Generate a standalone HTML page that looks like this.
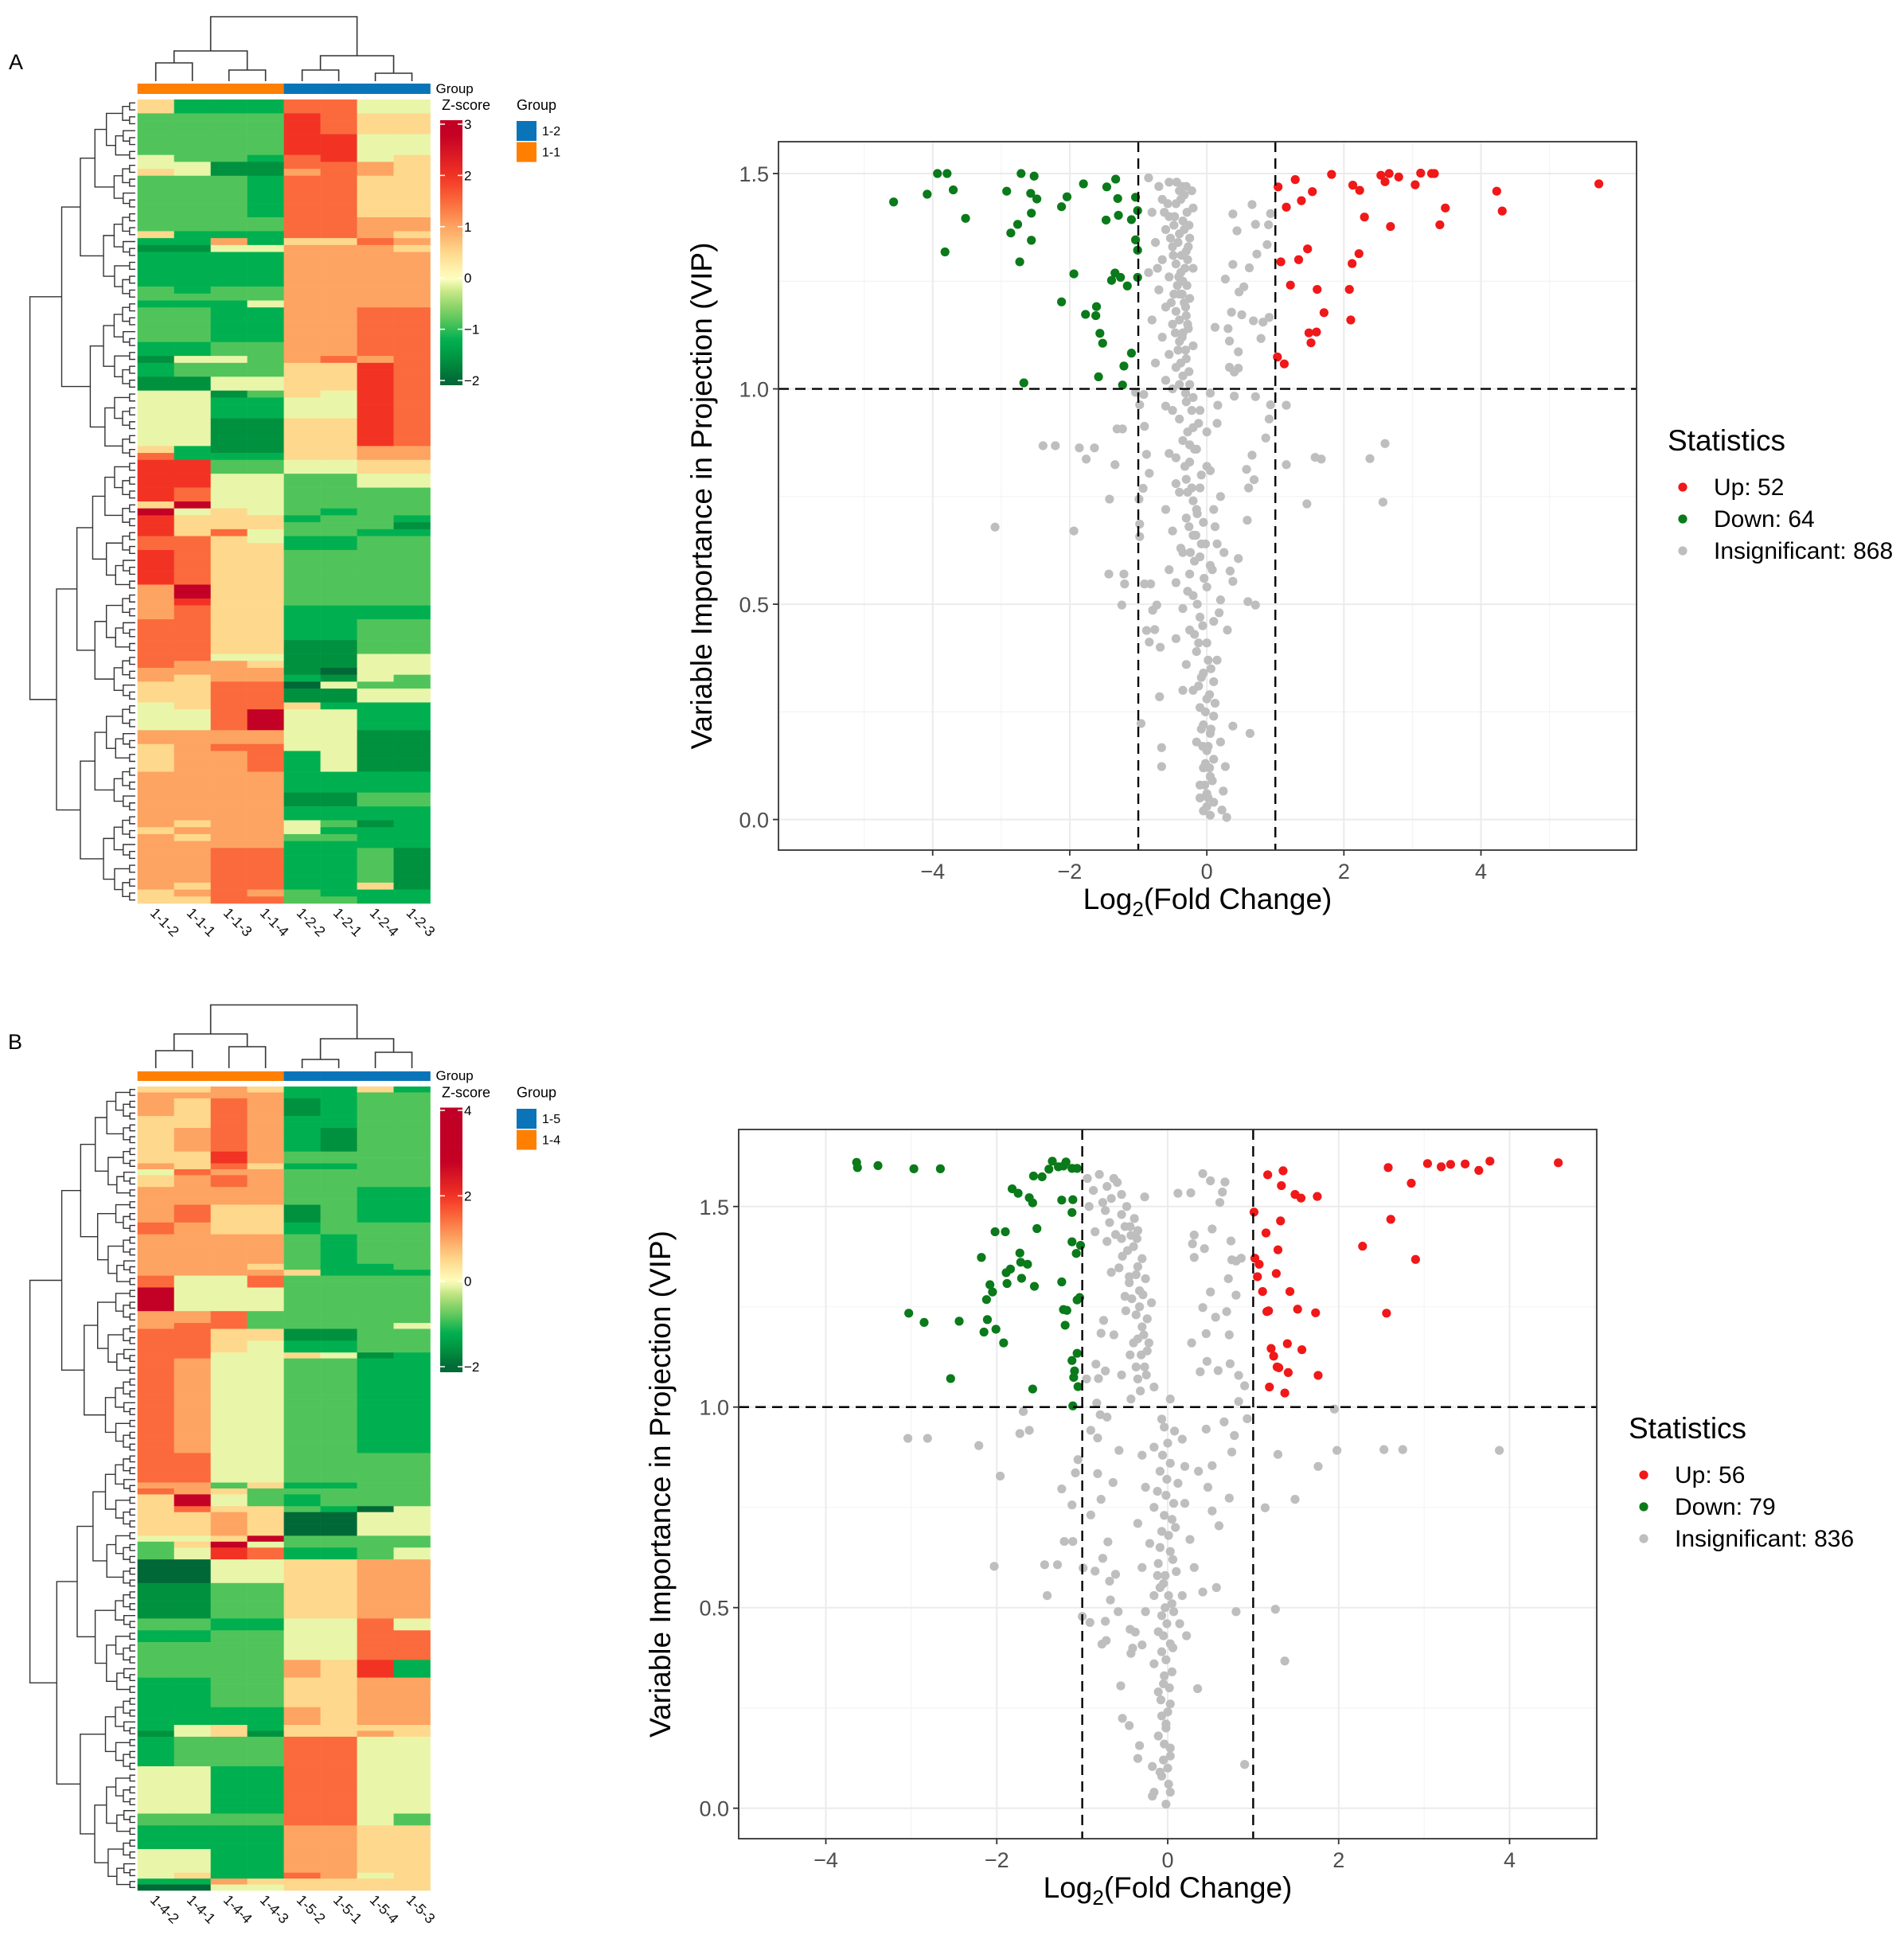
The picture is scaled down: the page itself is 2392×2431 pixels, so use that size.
<!DOCTYPE html>
<html><head><meta charset="utf-8"><title>Heatmaps and volcano plots</title>
<style>
html,body{margin:0;padding:0;background:#fff;}
svg{display:block;font-family:"Liberation Sans",Arial,sans-serif;}
</style></head>
<body>
<svg id="fig" width="2392" height="2431" viewBox="0 0 2392 2431" xmlns="http://www.w3.org/2000/svg">
<rect x="0" y="0" width="2392" height="2431" fill="#fff"/>
<text x="20" y="87" font-size="27" text-anchor="middle">A</text>
<text x="19" y="1318" font-size="27" text-anchor="middle">B</text>
<g id="layer"></g>
</svg>
<script>
// ---------- HEATMAP DATA ----------
const levelValues = [-2, -1.6, -1.2, -0.85, -0.1, 0.5, 1, 1.5, 2, 3.2];
const heatA_cols = ["1-1-2","1-1-1","1-1-3","1-1-4","1-2-2","1-2-1","1-2-4","1-2-3"];
const heatB_cols = ["1-4-2","1-4-1","1-4-4","1-4-3","1-5-2","1-5-1","1-5-4","1-5-3"];
const heatA_groups = ["1-1","1-1","1-1","1-1","1-2","1-2","1-2","1-2"];
const heatB_groups = ["1-4","1-4","1-4","1-4","1-5","1-5","1-5","1-5"];
const heatA_rows = [[2,"52227744"],[3,"33338755"],[3,"33338844"],[1,"43327845"],[1,"44117765"],[1,"54116765"],[6,"33327755"],[2,"33337766"],[1,"52227765"],[1,"22625576"],[1,"11446665"],[5,"22226666"],[1,"32336666"],[1,"33336666"],[1,"22246666"],[5,"33226677"],[2,"22336677"],[1,"14436767"],[2,"23335587"],[2,"11445587"],[1,"44135487"],[3,"44224487"],[4,"44115587"],[1,"52115566"],[1,"72225566"],
[2,"88334455"],[2,"88443344"],[2,"87443333"],[1,"59443333"],[1,"94543233"],[1,"85552332"],[1,"85553331"],[1,"85743322"],[1,"77542233"],[1,"77552233"],[5,"87553333"],[2,"69553333"],[1,"68553333"],[2,"67552222"],[3,"77552233"],[2,"77551133"],[1,"77441144"],[1,"76651144"],[1,"66661044"],[1,"65662143"],[1,"55770433"],[1,"55771144"],[1,"55771144"],[1,"45775222"],[3,"44794422"],[1,"66664411"],[1,"66664411"],[1,"56774411"],[3,"56672411"],[3,"66662222"],[2,"66661133"],[2,"66662222"],[1,"65664312"],[1,"56664222"],[1,"65663322"],[1,"66662222"],[5,"66772231"],[1,"65772251"],[1,"56763222"],[1,"55773322"]];
const heatB_rows = [[1,"55652252"],[1,"66662233"],[3,"65761233"],[2,"55762233"],[4,"56762133"],[2,"55863333"],[1,"65752233"],[1,"47663333"],[2,"56763333"],[3,"66663322"],[3,"67551322"],[2,"76552333"],[5,"66663233"],[1,"66653223"],[1,"66665222"],[2,"74473333"],[4,"94443333"],[2,"66733333"],[1,"67733334"],[2,"77551133"],[2,"77542233"],[1,"77445412"],[16,"76443322"],
[5,"77443333"],[1,"66352233"],[1,"76533333"],[2,"59432333"],[1,"57553204"],[4,"55650044"],[1,"44593333"],[1,"35943333"],[2,"34872234"],[4,"00445566"],[6,"11335566"],[2,"33224474"],[2,"22334477"],[3,"33334477"],[3,"33336582"],[5,"22335566"],[3,"22226566"],[1,"24525555"],[1,"14515565"],[5,"23337744"],[8,"44227744"],[2,"33337743"],[4,"22226655"],[4,"44226655"],[1,"45227645"],[1,"22655555"],[1,"00445555"]];
const heatA_ticks = [3,2,1,0,-1,-2];
const heatB_ticks = [4,2,0,-2];

// ---------- VOLCANO DATA ----------
const volcA_up = [[1.04,1.469],[1.29,1.486],[1.54,1.458],[1.82,1.498],[2.13,1.473],[2.23,1.461],[1.16,1.422],[1.38,1.437],[2.30,1.399],[2.54,1.496],[2.60,1.481],[2.66,1.5],[2.80,1.492],[3.04,1.474],[3.12,1.501],[3.28,1.5],[3.32,1.5],[2.68,1.377],[3.40,1.381],[3.48,1.420],[4.23,1.459],[4.31,1.413],[5.72,1.476],[1.47,1.325],[1.34,1.300],[1.08,1.295],[2.22,1.314],[2.12,1.291],[1.22,1.241],[1.61,1.231],[2.08,1.231],[1.71,1.177],[2.10,1.160],[1.49,1.130],[1.60,1.132],[1.52,1.107],[1.03,1.074],[1.13,1.058]];
const volcA_down = [[-4.57,1.434],[-4.08,1.452],[-3.93,1.5],[-3.79,1.5],[-3.70,1.462],[-3.52,1.396],[-3.82,1.318],[-2.92,1.459],[-2.86,1.362],[-2.76,1.382],[-2.71,1.5],[-2.73,1.295],[-2.57,1.454],[-2.56,1.408],[-2.52,1.494],[-2.48,1.441],[-2.56,1.345],[-2.67,1.014],[-2.12,1.423],[-2.04,1.446],[-1.80,1.476],[-1.94,1.267],[-2.12,1.202],[-1.77,1.173],[-1.61,1.191],[-1.62,1.170],[-1.56,1.129],[-1.52,1.106],[-1.58,1.028],[-1.46,1.469],[-1.47,1.392],[-1.33,1.487],[-1.30,1.442],[-1.29,1.403],[-1.10,1.393],[-1.04,1.445],[-1.01,1.414],[-1.04,1.346],[-1.01,1.322],[-1.34,1.269],[-1.39,1.252],[-1.26,1.259],[-1.16,1.239],[-1.01,1.259],[-1.10,1.083],[-1.21,1.053],[-1.23,1.009]];
const volcA_ns = [[-2.39,0.868],[-2.21,0.868],[-1.86,0.863],[-1.64,0.863],[-1.76,0.837],[-3.09,0.679],[-1.94,0.670],[-1.42,0.744],[-1.34,0.824],[-1.23,0.907],[-1.31,0.907],[-1.43,0.57],[-1.21,0.57],[-1.2,0.547],[-1.24,0.498],[2.6,0.873],[2.38,0.838],[2.57,0.737],[1.58,0.841],[1.67,0.837],[1.46,0.733],[1.16,0.824],[1.16,0.962],[0.93,0.963],[0.91,0.93],[0.86,0.886],[0.71,0.982],[0.4,0.983],[0.16,0.962],[0.66,0.846],[0.58,0.813],[0.69,0.789],[0.61,0.77],[0.59,0.695],[0.6,0.506],[0.71,0.498],[0.46,0.606],[0.34,0.577],[0.38,0.553],[0.63,0.2],[0.38,0.217],[0.27,0.123],[0.24,0.066],[0.22,0.022],[0.29,0.005],[-0.69,0.285],[-0.66,0.167],[-0.66,0.123],[-0.96,0.223],[-0.84,0.412],[-0.68,0.4],[-0.76,0.441],[-0.91,0.547],[-0.82,0.547],[-0.73,0.498],[-0.79,0.486],[-0.88,0.439],[-0.98,0.657],[-0.98,0.686],[-0.99,0.744],[-0.93,0.769],[-0.84,0.804],[-0.88,0.848],[-0.91,0.913],[-0.98,0.963],[-1.04,0.992],[-0.92,0.987],[0.38,1.406],[0.44,1.367],[0.66,1.428],[0.71,1.382],[0.9,1.381],[0.93,1.407],[0.88,1.335],[0.73,1.313],[0.62,1.281],[0.38,1.289],[0.54,1.237],[0.27,1.255],[0.47,1.225],[0.36,1.178],[0.51,1.172],[0.68,1.158],[0.82,1.155],[0.91,1.166],[0.79,1.117],[0.33,1.111],[0.31,1.14],[0.12,1.143],[0.46,1.086],[0.33,1.05],[0.46,1.048],[0.4,1.039],
[-0.85,1.49],[-0.7,1.47],[-0.55,1.48],[-0.4,1.46],[-0.3,1.47],[-0.65,1.44],[-0.45,1.43],[-0.2,1.42],[-0.8,1.41],[-0.55,1.40],[-0.35,1.39],[-0.6,1.37],[-0.4,1.36],[-0.25,1.35],[-0.75,1.34],[-0.5,1.33],[-0.3,1.32],[-0.65,1.30],[-0.45,1.29],[-0.2,1.28],[-0.85,1.27],[-0.55,1.26],[-0.35,1.25],[-0.7,1.23],[-0.4,1.22],[-0.25,1.21],[-0.6,1.19],[-0.45,1.18],[-0.3,1.17],[-0.8,1.16],[-0.5,1.15],[-0.35,1.13],[-0.65,1.12],[-0.4,1.11],[-0.2,1.10],[-0.55,1.08],[-0.3,1.07],[-0.75,1.06],[-0.45,1.05],[-0.35,1.03],[-0.6,1.02],[-0.25,1.01],[-0.5,1.00],[-0.2,0.98],[-0.33,1.45],[-0.48,1.38],[-0.28,1.3],[-0.38,1.27],[-0.52,1.2],[-0.27,1.14],[-0.42,1.09],[-0.62,1.41],[-0.72,1.28],[-0.36,1.47],[-0.43,1.24],[-0.31,1.19],
[-0.38,1.44],[-0.29,1.41],[-0.47,1.40],[-0.33,1.37],[-0.42,1.34],[-0.27,1.33],[-0.37,1.31],[-0.49,1.31],[-0.32,1.28],[-0.41,1.26],[-0.29,1.24],[-0.36,1.22],[-0.48,1.22],[-0.33,1.20],[-0.40,1.16],[-0.28,1.15],[-0.36,1.12],[-0.46,1.13],[-0.31,1.09],[-0.38,1.06],[-0.26,1.04],[-0.40,1.01],[-0.31,0.99],[-0.22,1.46],[-0.44,1.48],[-0.57,1.43],[-0.26,1.38],[-0.53,1.35],
[-0.3,0.97],[-0.1,0.95],[-0.4,0.93],[-0.2,0.91],[0.0,0.9],[-0.35,0.88],[-0.15,0.86],[-0.45,0.84],[-0.25,0.83],[0.05,0.81],[-0.3,0.79],[-0.1,0.77],[-0.4,0.76],[-0.2,0.74],[0.1,0.72],[-0.3,0.70],[-0.05,0.69],[-0.5,0.67],[-0.2,0.66],[0.15,0.64],[-0.35,0.62],[-0.1,0.61],[0.05,0.59],[-0.25,0.57],[-0.45,0.55],[0.0,0.54],[-0.2,0.52],[0.2,0.51],[-0.35,0.49],[-0.1,0.47],[0.1,0.46],[-0.25,0.44],[-0.45,0.42],[0.0,0.41],[-0.15,0.39],[0.15,0.37],[-0.3,0.36],[-0.05,0.34],[0.1,0.32],[-0.2,0.30],[0.0,0.28],[-0.1,0.26],[0.1,0.24],[-0.05,0.22],[0.05,0.20],[-0.15,0.18],[0.0,0.16],[0.1,0.14],[-0.05,0.12],[0.05,0.10],[-0.1,0.08],[0.0,0.06],[0.1,0.04],[-0.05,0.02],[0.05,0.01],[0.0,0.03],[-0.1,0.05],[0.08,0.09],[-0.02,0.13],[0.02,0.17],[-0.08,0.21],[0.12,0.27],[-0.12,0.31],[0.06,0.35],[-0.18,0.43],[0.18,0.48],[-0.28,0.53],[0.08,0.58],[-0.38,0.63],[0.12,0.68],[-0.15,0.72],[0.2,0.75],[-0.45,0.78],[0.0,0.82],[-0.25,0.87],[0.15,0.92],[-0.5,0.95],[0.05,0.99],[-0.6,0.96],[-0.55,0.85],[-0.6,0.72],[0.25,0.62],[-0.55,0.58],[0.3,0.44],[-0.35,0.3],[0.2,0.18],
[-0.22,0.95],[-0.12,0.92],[-0.28,0.90],[-0.18,0.86],[-0.32,0.82],[-0.08,0.80],[-0.22,0.77],[-0.14,0.71],[-0.26,0.68],[-0.08,0.64],[-0.18,0.60],[-0.04,0.56],[-0.14,0.50],[-0.06,0.45],[-0.12,0.41],[0.02,0.37],[-0.08,0.33],[0.04,0.29],[-0.02,0.25],[0.06,0.21],[-0.06,0.17],[0.04,0.12],[-0.03,0.08],[0.02,0.05],[-0.28,0.76],[-0.16,0.66],[-0.24,0.62],[-0.02,0.64]];

const volcB_up = [[1.17,1.579],[1.35,1.589],[1.33,1.552],[1.49,1.530],[1.56,1.521],[1.75,1.525],[2.58,1.597],[2.85,1.558],[3.04,1.607],[3.20,1.599],[3.31,1.605],[3.48,1.606],[3.64,1.590],[3.77,1.613],[4.57,1.609],[1.01,1.486],[1.32,1.464],[1.15,1.434],[2.61,1.468],[2.28,1.401],[1.29,1.392],[2.90,1.368],[1.02,1.371],[1.07,1.356],[1.05,1.325],[1.27,1.333],[1.11,1.288],[1.43,1.288],[1.16,1.238],[1.18,1.240],[1.52,1.244],[1.73,1.235],[2.56,1.234],[1.21,1.146],[1.40,1.158],[1.57,1.143],[1.24,1.127],[1.28,1.100],[1.30,1.098],[1.41,1.086],[1.76,1.079],[1.19,1.050],[1.37,1.035]];
const volcB_down = [[-3.64,1.610],[-3.63,1.597],[-3.39,1.602],[-2.97,1.594],[-2.66,1.594],[-1.82,1.544],[-1.75,1.533],[-1.62,1.522],[-1.58,1.509],[-1.57,1.576],[-1.47,1.574],[-1.39,1.593],[-1.35,1.613],[-1.28,1.599],[-1.22,1.601],[-1.19,1.611],[-1.12,1.595],[-1.06,1.595],[-1.24,1.516],[-1.11,1.517],[-1.12,1.485],[-2.02,1.437],[-1.90,1.437],[-1.53,1.445],[-2.18,1.373],[-1.73,1.384],[-1.72,1.361],[-1.64,1.356],[-1.84,1.344],[-1.89,1.335],[-1.71,1.321],[-1.56,1.301],[-1.88,1.308],[-2.08,1.305],[-2.05,1.287],[-2.12,1.268],[-1.24,1.312],[-1.06,1.267],[-1.03,1.273],[-1.12,1.412],[-1.02,1.403],[-1.07,1.383],[-3.03,1.234],[-2.85,1.211],[-2.44,1.214],[-2.11,1.218],[-2.15,1.187],[-2.01,1.194],[-1.92,1.160],[-1.22,1.243],[-1.18,1.241],[-1.20,1.204],[-2.54,1.071],[-1.58,1.045],[-1.06,1.134],[-1.12,1.116],[-1.09,1.090],[-1.10,1.074],[-1.05,1.051],[-1.11,1.003]];
const volcB_ns = [[-3.04,0.922],[-2.81,0.922],[-2.21,0.904],[-1.96,0.828],[-2.03,0.603],[-1.44,0.607],[-1.29,0.607],[-1.41,0.53],[-1.24,0.796],[-1.12,0.756],[-1.11,0.665],[-1.21,0.665],[-1.05,0.869],[-1.69,0.989],[-1.73,0.934],[-1.62,0.942],[1.95,0.995],[1.98,0.892],[2.53,0.894],[2.75,0.894],[3.88,0.892],[1.76,0.852],[1.49,0.770],[1.14,0.749],[1.29,0.882],[1.26,0.496],[1.37,0.367],[0.8,0.49],[0.9,0.109],[0.57,0.55],[0.41,0.539],[0.35,0.298],
[0.60,0.704],[0.52,0.741],[0.47,0.800],[0.72,0.773],[0.75,0.888],[0.78,0.929],[0.66,0.963],[0.45,0.945],[0.93,0.971],[0.83,1.014],[0.52,0.854],[0.20,0.852],[0.46,1.114],[0.38,1.088],[0.59,1.091],[0.83,1.079],[0.90,1.053],[0.73,1.108],[0.45,1.183],[0.72,1.180],[0.28,1.160],[0.56,1.224],[0.41,1.248],[0.69,1.238],[0.80,1.279],[0.50,1.287],[0.71,1.320],[0.75,1.367],[0.80,1.364],[0.86,1.371],[0.74,1.414],[0.31,1.373],[0.43,1.395],[0.29,1.407],[0.52,1.444],[0.31,1.429],[0.61,1.510],[0.64,1.536],[0.50,1.564],[0.41,1.582],[0.67,1.561],[0.27,1.534],[0.12,1.533],[-0.27,1.524],[-0.53,1.376],[-0.43,1.428],[-0.57,1.347],[-0.45,1.325],[-0.50,1.276],[-0.71,1.413],[-0.85,1.437],[-0.66,1.336],[-0.78,1.184],[-0.75,1.216],[-0.84,1.107],[-0.81,1.071],[-0.95,1.070],[-0.83,1.010],[-0.71,0.975],[-0.79,0.981],[-0.90,0.942],[-0.82,0.923],[-0.57,0.892],[-1.08,0.836],[-0.82,0.834],[-0.78,0.770],[-0.90,0.731],[-0.64,0.812],[-0.70,0.664],[-0.76,0.623],[-0.85,0.591],[-0.99,0.599],[-1.00,0.478],[-0.91,0.463],[-0.73,0.466],[-0.77,0.409],[-0.72,0.418],[-0.68,0.566],[-0.61,0.583],[-0.58,0.490],[-0.67,0.519],[-0.44,0.446],[-0.41,0.399],[-0.38,0.439],[-0.55,0.305],[-0.53,0.224],[-0.45,0.206],[-0.33,0.156],[-0.35,0.124],[-0.18,0.104],[-0.43,0.386],[-0.30,0.407],
[-0.94,1.57],[-0.80,1.58],[-0.63,1.57],[-0.59,1.56],[-0.87,1.54],[-0.76,1.51],[-0.54,1.53],[-0.92,1.50],[-0.73,1.49],[-0.54,1.48],[-0.68,1.46],[-0.44,1.45],[-0.61,1.43],[-0.35,1.44],[-0.54,1.42],[-0.40,1.40],[-0.30,1.37],[-0.37,1.33],[-0.26,1.32],[-0.29,1.28],[-0.33,1.25],[-0.24,1.22],[-0.30,1.20],[-0.40,1.16],[-0.24,1.14],[-0.44,1.13],[-0.27,1.10],[-0.35,1.07],[-0.16,1.05],[-0.43,1.02],[0.03,1.02],[-0.73,1.09],[-0.54,1.08],[-0.63,1.18],[-0.49,1.24],
[-0.48,1.50],[-0.39,1.47],[-0.50,1.45],[-0.36,1.42],[-0.47,1.39],[-0.35,1.35],[-0.45,1.31],[-0.33,1.29],[-0.42,1.27],[-0.37,1.23],[-0.28,1.18],[-0.35,1.17],[-0.31,1.13],[-0.37,1.10],[-0.25,1.08],[-0.32,1.04],[-0.22,1.16],[-0.19,1.26],[-0.66,1.52],[-0.71,1.55],
[-0.07,0.97],[0.08,0.94],[-0.16,0.90],[0.03,0.86],[-0.09,0.84],[0.12,0.81],[-0.02,0.78],[-0.16,0.75],[0.05,0.72],[-0.07,0.69],[-0.21,0.66],[0.03,0.64],[-0.11,0.61],[0.10,0.59],[-0.05,0.56],[-0.16,0.53],[0.05,0.51],[-0.07,0.48],[0.14,0.46],[-0.11,0.44],[0.03,0.41],[-0.07,0.39],[-0.16,0.36],[0.05,0.34],[-0.05,0.31],[-0.11,0.29],[0.03,0.26],[-0.07,0.23],[-0.02,0.21],[-0.11,0.18],[0.03,0.15],[-0.05,0.12],[-0.09,0.09],[0.01,0.06],[-0.16,0.04],[-0.02,0.01],[-0.18,0.03],[0.03,0.04],[0.17,0.53],[0.22,0.43],[-0.26,0.49],[-0.30,0.60],[0.20,0.76],[0.26,0.67],[0.31,0.60],[0.36,0.84],[-0.26,0.80],[-0.35,0.71],[0.17,0.92],[-0.30,0.88],[-0.02,0.20],[-0.07,0.08],[0.03,0.13],
[-0.04,0.95],[0.00,0.91],[-0.06,0.88],[-0.01,0.82],[-0.12,0.79],[0.07,0.76],[-0.04,0.73],[0.01,0.68],[-0.09,0.65],[0.06,0.62],[-0.03,0.58],[-0.09,0.55],[0.01,0.53],[-0.03,0.50],[0.07,0.49],[-0.01,0.46],[-0.05,0.43],[0.06,0.40],[-0.02,0.37],[-0.04,0.33],[0.02,0.30],[-0.08,0.27],[0.00,0.24],[-0.04,0.16],[0.00,0.10],[-0.12,0.58],[0.09,0.70]];
const volcA_xticks = [-4,-2,0,2,4];
const volcB_xticks = [-4,-2,0,2,4];
const volc_yticks = [0,0.5,1,1.5];
const volcA_counts = [52,64,868];
const volcB_counts = [56,79,836];

// ---------- helpers ----------
const NS = "http://www.w3.org/2000/svg";
const layer = document.getElementById('layer');
function mk(tag, attrs, parent){
  const e = document.createElementNS(NS, tag);
  for (const k in attrs) e.setAttribute(k, attrs[k]);
  (parent || layer).appendChild(e);
  return e;
}
const colorStops = [[-2,[0,104,55]],[-1.6,[0,145,63]],[-1.2,[0,176,80]],[-0.85,[80,196,90]],[-0.5,[150,215,110]],[-0.25,[200,232,135]],[0,[255,255,192]],[0.5,[254,216,140]],[1,[253,164,98]],[1.5,[251,106,60]],[2,[242,51,36]],[2.8,[196,0,36]],[4,[192,0,38]]];
function zColor(v){
  if (v <= colorStops[0][0]) return 'rgb(' + colorStops[0][1].join(',') + ')';
  for (let i = 1; i < colorStops.length; i++){
    if (v <= colorStops[i][0]){
      const [a, ca] = colorStops[i-1], [b, cb] = colorStops[i];
      const t = (v - a) / (b - a);
      return 'rgb(' + ca.map((c, j) => Math.round(c + (cb[j] - c) * t)).join(',') + ')';
    }
  }
  return 'rgb(' + colorStops[colorStops.length-1][1].join(',') + ')';
}
function expandRows(rows){
  const out = [];
  rows.forEach(r => { for (let i = 0; i < r[0]; i++) out.push(r[1].split('').map(c => levelValues[+c])); });
  return out;
}

// ---------- heatmap ----------
function drawHeatmap(cfg){
  const g = mk('g', {});
  
  
  const mat = expandRows(cfg.rows);
  const nR = mat.length, nC = cfg.cols.length;
  const cw = (cfg.x1 - cfg.x0) / nC, rh = (cfg.y1 - cfg.y0) / nR;
  const colC = i => cfg.x0 + cw * (i + 0.5);
  const rowC = j => cfg.y0 + rh * (j + 0.5);
  const cells = mk('g', {}, g);
  
  
  mat.forEach((row, j) => row.forEach((v, i) => {
    const r = mk('rect', {x: cfg.x0 + cw * i, y: cfg.y0 + rh * j, width: cw + 0.3, height: rh + 0.3, fill: zColor(v)}, cells);
    
    
  }));
  cfg.groups.forEach((gr, i) => {
    const r = mk('rect', {x: cfg.x0 + cw * i, y: cfg.barY0, width: cw + 0.3, height: cfg.barY1 - cfg.barY0, fill: gr === cfg.groupNames[0] ? '#0a74b9' : '#ff7f00'}, g);
    
    
  });
  const gl = mk('text', {x: cfg.x1 + 7, y: cfg.barY1 - 1, 'font-size': 17}, g);
  gl.textContent = 'Group';
  
  
  const cd = mk('g', {stroke: '#333', 'stroke-width': 1.6, fill: 'none'}, g);
  
  
  const cdY = cfg.colDendro;
  const leafB = cdY[7];
  const seg = (pts) => { const p = mk('path', {d: 'M' + pts.map(q => q.join(',')).join(' L')}, cd);   };
  [[0,1,cdY[0]],[2,3,cdY[1]],[4,5,cdY[3]],[6,7,cdY[4]]].forEach(([a,b,h]) => seg([[colC(a),leafB],[colC(a),h],[colC(b),h],[colC(b),leafB]]));
  const m01 = (colC(0)+colC(1))/2, m23 = (colC(2)+colC(3))/2, m45 = (colC(4)+colC(5))/2, m67 = (colC(6)+colC(7))/2;
  seg([[m01,cdY[0]],[m01,cdY[2]],[m23,cdY[2]],[m23,cdY[1]]]);
  seg([[m45,cdY[3]],[m45,cdY[5]],[m67,cdY[5]],[m67,cdY[4]]]);
  const mA = (m01+m23)/2, mB = (m45+m67)/2;
  seg([[mA,cdY[2]],[mA,cdY[6]],[mB,cdY[6]],[mB,cdY[5]]]);
  const rd = mk('g', {stroke: '#333', 'stroke-width': 1.4, fill: 'none'}, g);
  
  
  const segs = [];
  function build(lo, hi){
    if (hi - lo === 1) return {y: rowC(lo), h: 0};
    const n = hi - lo;
    const mid = lo === 0 && hi === nR ? cfg.rootSplit : lo + Math.max(1, Math.round(n * (n % 3 === 0 ? 0.4 : 0.55)));
    const a = build(lo, mid), b = build(mid, hi);
    const h = Math.max(a.h, b.h) + 0.4 + Math.sqrt(n) * 0.35;
    segs.push([a, b, h]);
    return {y: (a.y + b.y) / 2, h};
  }
  const root = build(0, nR);
  const hx = h => cfg.dendroRight - (cfg.dendroRight - cfg.dendroLeft) * h / root.h;
  segs.forEach(([a, b, h]) => {
    const p = mk('path', {d: `M${hx(a.h)},${a.y} L${hx(h)},${a.y} L${hx(h)},${b.y} L${hx(b.h)},${b.y}`}, rd);
    
    
  });
  cfg.cols.forEach((c, i) => {
    const x = colC(i) - 8, y = cfg.y1 + 13;
    const t = mk('text', {x, y, 'font-size': 18, fill: '#111', transform: `rotate(45 ${x} ${y})`}, g);
    t.textContent = c;
    
    
  });
  const zTitle = mk('text', {x: cfg.cbX0 + 2, y: cfg.cbY0 - 13, 'font-size': 18}, g);
  zTitle.textContent = 'Z-score';
  
  
  const gid = cfg.name + '-grad';
  const defs = mk('defs', {}, g);
  const lg = mk('linearGradient', {id: gid, x1: 0, y1: 1, x2: 0, y2: 0}, defs);
  const zr = cfg.zMax - cfg.zMin;
  for (let k = 0; k <= 40; k++){
    const v = cfg.zMin + zr * k / 40;
    mk('stop', {offset: (k / 40).toFixed(3), 'stop-color': zColor(v)}, lg);
  }
  const cb = mk('rect', {x: cfg.cbX0, y: cfg.cbY0, width: cfg.cbX1 - cfg.cbX0, height: cfg.cbY1 - cfg.cbY0, fill: `url(#${gid})`}, g);
  
  
  const zy = v => cfg.tickYTop + (cfg.zTop - v) / (cfg.zTop - cfg.zBot) * (cfg.tickYBot - cfg.tickYTop);
  cfg.ticks.forEach(v => {
    const y = zy(v);
    mk('line', {x1: cfg.cbX0, x2: cfg.cbX0 + 6, y1: y, y2: y, stroke: '#fff', 'stroke-width': 1.5}, g);
    mk('line', {x1: cfg.cbX1 - 6, x2: cfg.cbX1, y1: y, y2: y, stroke: '#fff', 'stroke-width': 1.5}, g);
    const t = mk('text', {x: cfg.cbX1 + 2, y: y + 6, 'font-size': 17}, g);
    t.textContent = v < 0 ? '\u2212' + Math.abs(v) : String(v);
    
    
  });
  const lt = mk('text', {x: cfg.legX, y: cfg.cbY0 - 13, 'font-size': 18}, g);
  lt.textContent = 'Group';
  
  
  cfg.groupNames.forEach((nm, k) => {
    const y = cfg.legY0 + k * 26.5;
    const r = mk('rect', {x: cfg.legX, y, width: 25, height: 25, fill: k === 0 ? '#0a74b9' : '#ff7f00'}, g);
    
    
    const t = mk('text', {x: cfg.legX + 32, y: y + 18, 'font-size': 16}, g);
    t.textContent = nm;
    
    
  });
}

drawHeatmap({name: 'heatmap-a', rows: heatA_rows, cols: heatA_cols, groups: heatA_groups, groupNames: ['1-2','1-1'],
  x0: 172.7, x1: 540.5, y0: 125, y1: 1135, barY0: 105, barY1: 118,
  colDendro: [79, 88, 64, 88, 92, 70, 21, 102], rootSplit: 52, dendroLeft: 37.6, dendroRight: 170,
  cbX0: 553, cbX1: 581, cbY0: 151, cbY1: 484, zMin: -2.08, zMax: 3.08, zTop: 3, zBot: -2, tickYTop: 156, tickYBot: 478, ticks: heatA_ticks,
  legX: 649, legY0: 152});
drawHeatmap({name: 'heatmap-b', rows: heatB_rows, cols: heatB_cols, groups: heatB_groups, groupNames: ['1-5','1-4'],
  x0: 172.7, x1: 540.5, y0: 1365, y1: 2375, barY0: 1346, barY1: 1358,
  colDendro: [1320, 1315, 1299, 1331, 1322, 1305, 1262.5, 1342], rootSplit: 62, dendroLeft: 37.6, dendroRight: 170,
  cbX0: 553, cbX1: 581, cbY0: 1391.5, cbY1: 1724, zMin: -2.12, zMax: 4.07, zTop: 4, zBot: -2, tickYTop: 1395, tickYBot: 1717, ticks: heatB_ticks,
  legX: 649, legY0: 1393});

// ---------- volcano ----------
function drawVolcano(cfg){
  const g = mk('g', {});
  
  
  const X = v => cfg.fx0 + (v - cfg.xlim[0]) / (cfg.xlim[1] - cfg.xlim[0]) * (cfg.fx1 - cfg.fx0);
  const Y = v => cfg.fy1 - (v - cfg.ylim[0]) / (cfg.ylim[1] - cfg.ylim[0]) * (cfg.fy1 - cfg.fy0);
  const grid = mk('g', {}, g);
  
  
  const xt = cfg.xticks, step = xt[1] - xt[0];
  for (let v = xt[0] - step * 1.5; v <= xt[xt.length-1] + step * 1.5; v += step){
    if (v > cfg.xlim[0] && v < cfg.xlim[1]) mk('line', {x1: X(v), x2: X(v), y1: cfg.fy0, y2: cfg.fy1, stroke: '#f4f4f4', 'stroke-width': 1.3}, grid);
  }
  const yt = volc_yticks;
  for (let v = -0.25; v <= 2; v += 0.5){
    if (v > cfg.ylim[0] && v < cfg.ylim[1]) mk('line', {x1: cfg.fx0, x2: cfg.fx1, y1: Y(v), y2: Y(v), stroke: '#f4f4f4', 'stroke-width': 1.3}, grid);
  }
  xt.forEach(v => mk('line', {x1: X(v), x2: X(v), y1: cfg.fy0, y2: cfg.fy1, stroke: '#ebebeb', 'stroke-width': 2}, grid));
  yt.forEach(v => mk('line', {x1: cfg.fx0, x2: cfg.fx1, y1: Y(v), y2: Y(v), stroke: '#ebebeb', 'stroke-width': 2}, grid));
  const series = [[cfg.ns, '#bebebe', 'point-insignificant'], [cfg.down, '#0a7a1a', 'point-down'], [cfg.up, '#f01818', 'point-up']];
  series.forEach(([arr, col, nm]) => arr.forEach(p => {
    const c = mk('circle', {cx: X(p[0]), cy: Y(p[1]), r: 5.6, fill: col}, g);
    
    
  }));
  [-1, 1].forEach(v => {
    const l = mk('line', {x1: X(v), x2: X(v), y1: cfg.fy0, y2: cfg.fy1, stroke: '#000', 'stroke-width': 2.4, 'stroke-dasharray': '13 8'}, g);
    
    
  });
  const hl = mk('line', {x1: cfg.fx0, x2: cfg.fx1, y1: Y(1), y2: Y(1), stroke: '#000', 'stroke-width': 2.4, 'stroke-dasharray': '13 8'}, g);
  
  
  const fr = mk('rect', {x: cfg.fx0, y: cfg.fy0, width: cfg.fx1 - cfg.fx0, height: cfg.fy1 - cfg.fy0, fill: 'none', stroke: '#333', 'stroke-width': 1.8}, g);
  
  
  xt.forEach(v => {
    mk('line', {x1: X(v), x2: X(v), y1: cfg.fy1, y2: cfg.fy1 + 7, stroke: '#333', 'stroke-width': 1.8}, g);
    const t = mk('text', {x: X(v), y: cfg.fy1 + 36, 'font-size': 27, fill: '#4d4d4d', 'text-anchor': 'middle'}, g);
    t.textContent = v < 0 ? '\u2212' + Math.abs(v) : String(v);
    
    
  });
  yt.forEach(v => {
    mk('line', {x1: cfg.fx0 - 7, x2: cfg.fx0, y1: Y(v), y2: Y(v), stroke: '#333', 'stroke-width': 1.8}, g);
    const t = mk('text', {x: cfg.fx0 - 12, y: Y(v) + 10, 'font-size': 27, fill: '#4d4d4d', 'text-anchor': 'end'}, g);
    t.textContent = v.toFixed(1);
    
    
  });
  const xtitle = mk('text', {x: (cfg.fx0 + cfg.fx1) / 2, y: cfg.fy1 + 74, 'font-size': 37, 'text-anchor': 'middle'}, g);
  xtitle.innerHTML = 'Log<tspan font-size="26" dy="9">2</tspan><tspan dy="-9">(Fold Change)</tspan>';
  
  
  const cy = (cfg.fy0 + cfg.fy1) / 2;
  const ytitle = mk('text', {x: cfg.ytX, y: cy, 'font-size': 37, 'text-anchor': 'middle', transform: `rotate(-90 ${cfg.ytX} ${cy})`}, g);
  ytitle.textContent = 'Variable Importance in Projection (VIP)';
  
  
  const lt = mk('text', {x: cfg.legX, y: cfg.legY, 'font-size': 37}, g);
  lt.textContent = 'Statistics';
  
  
  const labels = ['Up: ', 'Down: ', 'Insignificant: '], cols = ['#f01818', '#0a7a1a', '#bebebe'];
  labels.forEach((lb, k) => {
    const y = cfg.legY + 46 + k * 40;
    const c = mk('circle', {cx: cfg.legX + 19, cy: y, r: 5.6, fill: cols[k]}, g);
    
    
    const t = mk('text', {x: cfg.legX + 58, y: y + 10, 'font-size': 30}, g);
    t.textContent = lb + cfg.counts[k];
    
    
  });
}

drawVolcano({name: 'volcano-a', up: volcA_up, down: volcA_down, ns: volcA_ns, xticks: volcA_xticks, counts: volcA_counts,
  fx0: 978, fx1: 2056, fy0: 178, fy1: 1068, xlim: [-6.25, 6.27], ylim: [-0.071, 1.574], ytX: 894, legX: 2095, legY: 566});
drawVolcano({name: 'volcano-b', up: volcB_up, down: volcB_down, ns: volcB_ns, xticks: volcB_xticks, counts: volcB_counts,
  fx0: 928, fx1: 2006, fy0: 1419, fy1: 2310, xlim: [-5.02, 5.02], ylim: [-0.076, 1.692], ytX: 842, legX: 2046, legY: 1807});
</script>
</body></html>
